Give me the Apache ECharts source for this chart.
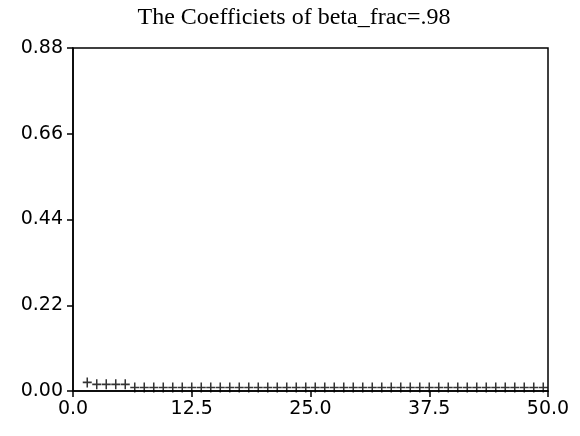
<!DOCTYPE html>
<html>
<head>
<meta charset="utf-8">
<script src="https://cdn.jsdelivr.net/npm/echarts@6/dist/echarts.min.js"></script>
<style>html,body{margin:0;padding:0;background:#fff;}#c{width:580px;height:436px;}</style>
</head>
<body>
<div id="c"></div>
<script>
var titleText = "The Coefficiets of beta_frac=.98";
var xValues = [1.5,2.5,3.5,4.5,5.5,6.5,7.5,8.5,9.5,10.5,11.5,12.5,13.5,14.5,15.5,16.5,17.5,18.5,19.5,20.5,21.5,22.5,23.5,24.5,25.5,26.5,27.5,28.5,29.5,30.5,31.5,32.5,33.5,34.5,35.5,36.5,37.5,38.5,39.5,40.5,41.5,42.5,43.5,44.5,45.5,46.5,47.5,48.5,49.5];
var coefValues = [0.022,0.017,0.017,0.017,0.017,0.009,0.009,0.009,0.009,0.009,0.009,0.009,0.009,0.009,0.009,0.009,0.009,0.009,0.009,0.009,0.009,0.009,0.009,0.009,0.009,0.009,0.009,0.009,0.009,0.009,0.009,0.009,0.009,0.009,0.009,0.009,0.009,0.009,0.009,0.009,0.009,0.009,0.009,0.009,0.009,0.009,0.009,0.009,0.009];
var xTicks = [0, 12.5, 25, 37.5, 50];
var yTicks = [0, 0.22, 0.44, 0.66, 0.88];

var data = xValues.map(function(x, i){ return [x, coefValues[i]]; });
var chart = echarts.init(document.getElementById('c'), null, {renderer:'canvas'});
var axisFont = {fontFamily:'DejaVu Sans', fontSize:19, color:'#000'};
chart.setOption({
  animation:false,
  backgroundColor:'#fff',
  title:{text:titleText, left:289, textAlign:'center', top:1,
    textStyle:{fontFamily:'Liberation Serif', fontSize:24, fontWeight:'normal', color:'#000'}},
  grid:{left:73, right:32, top:48, bottom:45, show:true, borderColor:'#000', borderWidth:1.5, backgroundColor:'#fff'},
  xAxis:{type:'value', min:xTicks[0], max:xTicks[xTicks.length-1], interval:12.5,
    axisLine:{lineStyle:{color:'#000', width:1.5}},
    axisTick:{length:6, lineStyle:{color:'#000', width:1.5}},
    splitLine:{show:false},
    axisLabel:Object.assign({margin:9, formatter:function(v){return v.toFixed(1);}}, axisFont)},
  yAxis:{type:'value', min:yTicks[0], max:yTicks[yTicks.length-1], interval:0.22,
    axisLine:{lineStyle:{color:'#000', width:1.5}},
    axisTick:{length:6, lineStyle:{color:'#000', width:1.5}},
    splitLine:{show:false},
    axisLabel:Object.assign({margin:10, formatter:function(v){return v.toFixed(2);}}, axisFont)},
  series:[{type:'scatter', data:data, symbol:'path://M0,5L10,5M5,0L5,10', symbolSize:[9,10],
    itemStyle:{color:'rgba(0,0,0,0)', borderColor:'#000', borderWidth:1.6}}]
});
</script>
</body>
</html>
